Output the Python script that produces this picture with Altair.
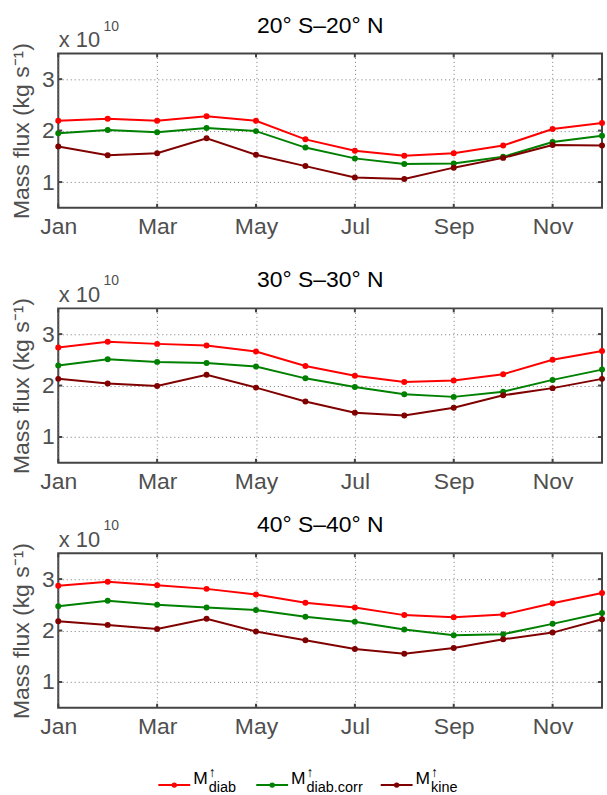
import altair as alt
import pandas as pd

MONTHS = list(range(1, 13))
MONTH_LABELS = ["Jan", "Feb", "Mar", "Apr", "May", "Jun", "Jul", "Aug", "Sep", "Oct", "Nov", "Dec"]
TICK_MONTHS = [1, 3, 5, 7, 9, 11]
Y_TICKS = [1, 2, 3]
SERIES = ["diab", "diab.corr", "kine"]
COLORS = ["#ff0000", "#008000", "#800000"]
REGIONS = ["20° S\u201320° N", "30° S\u201330° N", "40° S\u201340° N"]

# values in units of 1e10 kg s^-1
P1_DIAB = [2.19, 2.23, 2.19, 2.28, 2.19, 1.83, 1.61, 1.51, 1.56, 1.71, 2.03, 2.15]
P1_CORR = [1.95, 2.01, 1.97, 2.05, 1.99, 1.67, 1.46, 1.35, 1.36, 1.49, 1.78, 1.90]
P1_KINE = [1.69, 1.52, 1.56, 1.85, 1.53, 1.31, 1.09, 1.06, 1.28, 1.47, 1.72, 1.71]
P2_DIAB = [2.74, 2.85, 2.81, 2.78, 2.66, 2.38, 2.19, 2.07, 2.10, 2.22, 2.50, 2.67]
P2_CORR = [2.39, 2.51, 2.46, 2.44, 2.37, 2.14, 1.97, 1.83, 1.78, 1.88, 2.11, 2.31]
P2_KINE = [2.13, 2.04, 1.99, 2.21, 1.96, 1.69, 1.47, 1.42, 1.57, 1.81, 1.95, 2.13]
P3_DIAB = [2.87, 2.95, 2.88, 2.81, 2.70, 2.54, 2.45, 2.30, 2.26, 2.31, 2.53, 2.73]
P3_CORR = [2.47, 2.58, 2.50, 2.45, 2.40, 2.27, 2.17, 2.02, 1.91, 1.93, 2.13, 2.34]
P3_KINE = [2.18, 2.11, 2.03, 2.23, 1.98, 1.81, 1.64, 1.55, 1.66, 1.83, 1.96, 2.22]

PANEL_DATA = [
    [P1_DIAB, P1_CORR, P1_KINE],
    [P2_DIAB, P2_CORR, P2_KINE],
    [P3_DIAB, P3_CORR, P3_KINE],
]

Y_TITLE = "Mass flux (kg s\u207b\u00b9)"
SCI_PREFIX = "x 10"
SCI_EXP = "10"

FONT = "Liberation Sans"
W, H = 546, 155
AX = "#444444"
LBL = "#4f4f4f"

label_expr = "[" + ",".join("'%s'" % m for m in MONTH_LABELS) + "][datum.value - 1]"

x_enc = alt.X(
    "month:Q",
    scale=alt.Scale(domain=[1, 12], nice=False, zero=False),
    axis=alt.Axis(
        values=TICK_MONTHS, labelExpr=label_expr, title=None, grid=True,
        gridDash=[1, 3], gridColor="#777777", gridWidth=1, ticks=False, domain=False,
        labelFontSize=23, labelFont=FONT, labelColor=LBL, labelPadding=8,
        labelFlush=False, labelOverlap=False, labelBound=False,
    ),
)
y_enc = alt.Y(
    "value:Q",
    scale=alt.Scale(domain=[0.5, 3.5], nice=False, zero=False),
    axis=alt.Axis(
        values=Y_TICKS, format="d", title=Y_TITLE, grid=True,
        gridDash=[1, 3], gridColor="#777777", gridWidth=1, ticks=False, domain=False,
        labelFontSize=23, labelFont=FONT, labelColor=LBL, labelPadding=4,
        titleFontSize=23, titleFont=FONT, titleFontWeight="normal", titleColor=LBL,
        titlePadding=8,
    ),
)
color_enc = alt.Color("series:N", scale=alt.Scale(domain=SERIES, range=COLORS), legend=None)


def panel(i, legend=False):
    rows = []
    for s, vals in zip(SERIES, PANEL_DATA[i]):
        for m, v in zip(MONTHS, vals):
            rows.append({"month": m, "value": v, "series": s})
    df = pd.DataFrame(rows)
    base = alt.Chart(df)
    lines = base.mark_line(strokeWidth=2).encode(x=x_enc, y=y_enc, color=color_enc)
    pts = base.mark_circle(size=36, opacity=1).encode(x=x_enc, y=y_enc, color=color_enc)

    xt = alt.Chart(pd.DataFrame({"month": TICK_MONTHS}))
    yt = alt.Chart(pd.DataFrame({"value": Y_TICKS}))
    ticks = [
        xt.mark_rule(color=AX, strokeWidth=2).encode(x=x_enc, y=alt.value(H), y2=alt.value(H - 4)),
        xt.mark_rule(color=AX, strokeWidth=2).encode(x=x_enc, y=alt.value(0), y2=alt.value(4)),
        yt.mark_rule(color=AX, strokeWidth=2).encode(y=y_enc, x=alt.value(0), x2=alt.value(4)),
        yt.mark_rule(color=AX, strokeWidth=2).encode(y=y_enc, x=alt.value(W), x2=alt.value(W - 4)),
    ]
    one = alt.Chart(pd.DataFrame({"a": [0]}))
    texts = [
        one.mark_text(align="center", baseline="alphabetic", fontSize=23, font=FONT, color="black").encode(
            x=alt.value(W / 2 - 10), y=alt.value(-21), text=alt.value(REGIONS[i])),
        one.mark_text(align="left", baseline="alphabetic", fontSize=22, font=FONT, color=LBL).encode(
            x=alt.value(0.5), y=alt.value(-6), text=alt.value(SCI_PREFIX)),
        one.mark_text(align="left", baseline="alphabetic", fontSize=14, font=FONT, color=LBL).encode(
            x=alt.value(45.5), y=alt.value(-23), text=alt.value(SCI_EXP)),
    ]
    layers = [lines, pts] + ticks + texts
    if legend:
        ly = 232.7
        starts = [100.5, 198.8, 323.8]
        for s, c, x0 in zip(SERIES, COLORS, starts):
            layers += [
                one.mark_rule(color=c, strokeWidth=2).encode(
                    x=alt.value(x0), x2=alt.value(x0 + 32), y=alt.value(ly)),
                one.mark_circle(color=c, size=30, opacity=1).encode(
                    x=alt.value(x0 + 16), y=alt.value(ly)),
                one.mark_text(align="left", baseline="alphabetic", fontSize=17.5, font=FONT, color="black").encode(
                    x=alt.value(x0 + 35), y=alt.value(ly - 1.5), text=alt.value("M")),
                one.mark_text(align="left", baseline="alphabetic", fontSize=14, font=FONT, color="black").encode(
                    x=alt.value(x0 + 50.5), y=alt.value(ly - 8), text=alt.value("\u2191")),
                one.mark_text(align="left", baseline="alphabetic", fontSize=14.5, font=FONT, color="black").encode(
                    x=alt.value(x0 + 50.5), y=alt.value(ly + 7), text=alt.value(s)),
            ]
    return alt.layer(*layers).properties(
        width=W, height=H,
        view=alt.ViewBackground(stroke=AX, strokeWidth=2),
    )


def spacer(h):
    return alt.Chart(pd.DataFrame({"a": [0]})).mark_point(opacity=0).properties(width=W, height=h)


chart = alt.vconcat(
    panel(0), spacer(101), panel(1), spacer(91), panel(2, legend=True),
    spacing=0, bounds="flush",
).properties(
    padding={"left": 9.5, "top": 12, "right": 0, "bottom": 0},
    background="white",
).configure_view(stroke="transparent")

chart.save("out.html", embed_options={"renderer": "svg", "actions": False})
